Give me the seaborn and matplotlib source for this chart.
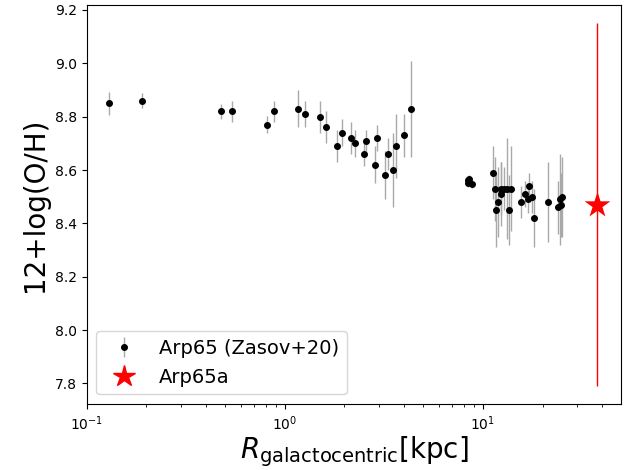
import numpy as np
import pandas as pd
import matplotlib
matplotlib.use("Agg")
import matplotlib.pyplot as plt
import seaborn as sns

# Zasov+20 data for Arp65
r_kpc = [0.13, 0.19, 0.475, 0.54, 0.81, 0.88,
         1.16, 1.27, 1.50, 1.61, 1.84, 1.94, 2.17, 2.26, 2.50, 2.58, 2.85, 2.93,
         3.19, 3.32, 3.53, 3.64, 4.0, 4.32,
         8.37, 8.43, 8.52, 8.80,
         11.2, 11.5, 11.7, 11.9, 12.3, 12.4, 12.8, 13.2, 13.6, 13.9,
         15.6, 16.4, 16.8, 17.1, 17.6, 18.1, 21.4, 24.0, 24.4, 24.8, 25.2]
oh = [8.85, 8.86, 8.82, 8.82, 8.77, 8.82,
      8.83, 8.81, 8.80, 8.76, 8.69, 8.74, 8.72, 8.70, 8.66, 8.71, 8.62, 8.72,
      8.58, 8.66, 8.60, 8.69, 8.73, 8.83,
      8.553, 8.561, 8.566, 8.548,
      8.59, 8.53, 8.45, 8.48, 8.53, 8.51, 8.53, 8.53, 8.45, 8.53,
      8.48, 8.51, 8.49, 8.54, 8.50, 8.42, 8.48, 8.46, 8.49, 8.47, 8.50]
oh_err = [0.042, 0.028, 0.028, 0.04, 0.032, 0.04,
          0.07, 0.05, 0.06, 0.06, 0.06, 0.05, 0.06, 0.05, 0.045, 0.04, 0.07, 0.05,
          0.09, 0.06, 0.14, 0.12, 0.08, 0.18,
          0.015, 0.015, 0.015, 0.015,
          0.10, 0.12, 0.14, 0.13, 0.10, 0.12, 0.08, 0.19, 0.13, 0.16,
          0.06, 0.05, 0.05, 0.05, 0.06, 0.11, 0.15, 0.10, 0.17, 0.12, 0.15]

# Arp65a
r_a = [37.5]
oh_a = [8.47]
oh_a_err = [0.68]

df = pd.DataFrame({"r": r_kpc, "oh": oh, "err": oh_err})
dfa = pd.DataFrame({"r": r_a, "oh": oh_a, "err": oh_a_err})

fig = plt.figure(figsize=(6.33, 4.70), dpi=100)
ax = fig.add_axes([0.137, 0.140, 0.844, 0.849])

eb = ax.errorbar(df["r"], df["oh"], yerr=df["err"], fmt="o", color="black",
                 ecolor="darkgray", elinewidth=1, ms=4, label="Arp65 (Zasov+20)",
                 zorder=3)
ax.errorbar(dfa["r"], dfa["oh"], yerr=dfa["err"], fmt="none", ecolor="red",
            elinewidth=1, zorder=2)
sns.scatterplot(data=dfa, x="r", y="oh", marker="*", s=380, color="red",
                edgecolor="red", linewidth=0, label="Arp65a", ax=ax, zorder=4,
                legend=False)

ax.set_xscale("log")
ax.set_xlim(0.1, None)
ax.set_xlabel(r"$R_{\rm galactocentric}$[kpc]", fontsize=20, labelpad=1)
ax.set_ylabel("12+log(O/H)", fontsize=20)

star_handle = plt.Line2D([], [], marker="*", color="red", linestyle="none",
                         markersize=16)
ax.legend([eb, star_handle], ["Arp65 (Zasov+20)", "Arp65a"],
          loc="lower left", fontsize=14)

fig.savefig("out.png", dpi=100)
